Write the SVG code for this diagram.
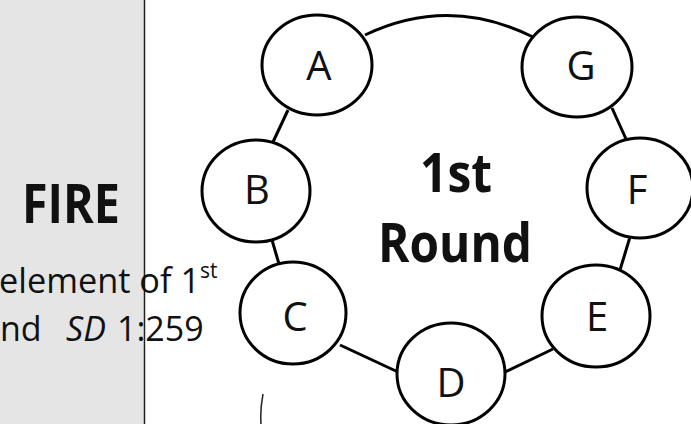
<svg xmlns="http://www.w3.org/2000/svg" width="691" height="424" viewBox="0 0 691 424">
<style>
.node ellipse{fill:#fff;stroke:#000;stroke-width:3}
.node text{font-family:"Open Sans","Liberation Sans",sans-serif;font-size:40px;fill:#111;text-anchor:middle}
.conn{stroke:#000;stroke-width:3;fill:none}
.bold{font-family:"Open Sans","Liberation Sans",sans-serif;font-weight:bold;fill:#111}
.reg{font-family:"Open Sans","Liberation Sans",sans-serif;fill:#111}
</style>
<rect x="0" y="0" width="691" height="424" fill="#fff"/>
<rect x="0" y="0" width="144" height="424" fill="#e5e5e5"/>
<line x1="144.5" y1="0" x2="144.5" y2="424" stroke="#222" stroke-width="1.5"/>
<text class="bold" x="22" y="223" font-size="53" textLength="98" lengthAdjust="spacingAndGlyphs">FIRE</text>
<text class="reg" x="-1" y="293" font-size="34" textLength="201" lengthAdjust="spacingAndGlyphs">element of 1</text>
<text class="reg" x="200" y="278" font-size="21">st</text>
<text class="reg" y="341" font-size="34"><tspan x="0">nd</tspan><tspan x="66" font-style="italic">SD</tspan><tspan x="117">1:259</tspan></text>
<g id="connectors">
<path class="conn" d="M365,35 Q449,-5 533,37"/>
<line class="conn" x1="288" y1="110" x2="273" y2="142"/>
<line class="conn" x1="612" y1="108" x2="626" y2="139"/>
<line class="conn" x1="272" y1="240" x2="279" y2="264"/>
<line class="conn" x1="340" y1="345" x2="398" y2="372"/>
<line class="conn" x1="505" y1="372" x2="553" y2="349"/>
<line class="conn" x1="630" y1="237" x2="620" y2="270"/>
<path d="M263,394 Q260,410 261,424" stroke="#222" stroke-width="1.5" fill="none"/>
</g>
<g id="node-A" class="node"><ellipse cx="317" cy="65" rx="55" ry="50"/><text x="319" y="80">A</text></g>
<g id="node-G" class="node"><ellipse cx="577" cy="67" rx="55" ry="50"/><text x="581" y="80">G</text></g>
<g id="node-B" class="node"><ellipse cx="256" cy="191" rx="54" ry="51"/><text x="257" y="204">B</text></g>
<g id="node-F" class="node"><ellipse cx="640" cy="188" rx="53" ry="50"/><text x="637" y="204">F</text></g>
<g id="node-C" class="node"><ellipse cx="293" cy="313" rx="53" ry="51"/><text x="295" y="331">C</text></g>
<g id="node-E" class="node"><ellipse cx="596" cy="316" rx="54" ry="51"/><text x="597" y="331">E</text></g>
<g id="node-D" class="node"><ellipse cx="451" cy="374" rx="54" ry="51"/><text x="451" y="397">D</text></g>
<g id="center-label">
<text class="bold" x="420" y="192" font-size="53" textLength="72" lengthAdjust="spacingAndGlyphs">1st</text>
<text class="bold" x="378" y="262" font-size="54" textLength="154" lengthAdjust="spacingAndGlyphs">Round</text>
</g>
</svg>
